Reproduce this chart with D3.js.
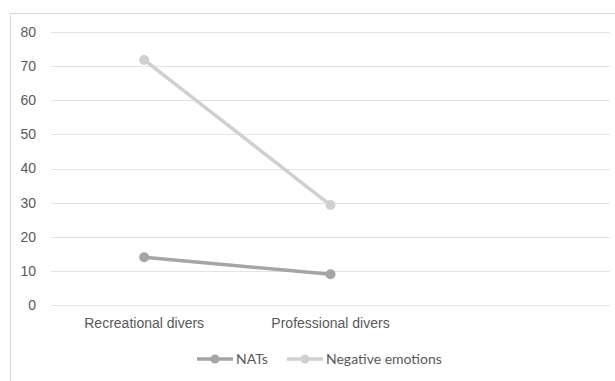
<!DOCTYPE html>
<html><head><meta charset="utf-8">
<script src="https://cdn.jsdelivr.net/npm/d3@7"></script>
<style>body{margin:0;background:#fff;}svg{display:block;font-family:Lato,"Open Sans",sans-serif;}</style>
</head><body><svg id="c" width="615" height="381"></svg>
<script>
const categories = ["Recreational divers", "Professional divers", ""];
const natsValues = [14.0, 9.0];
const negativeValues = [71.8, 29.3];
const yTicks = [0, 10, 20, 30, 40, 50, 60, 70, 80];
const seriesNames = ["NATs", "Negative emotions"];
const seriesColors = ["#a5a5a5", "#d0d0d0"];

const svg = d3.select("#c");
svg.append("rect").attr("x", 10.5).attr("y", 13.5).attr("width", 640).attr("height", 400)
  .attr("fill", "#fff").attr("stroke", "#d9d9d9");

const x = d3.scaleBand().domain(categories).range([51, 610]);
const y = d3.scaleLinear().domain([0, 80]).range([305, 32]);

const g = svg.append("g");
g.selectAll("line.grid").data(yTicks).join("line").attr("class", "grid")
  .attr("x1", 51).attr("x2", 610).attr("y1", d => Math.round(y(d)) + 0.5).attr("y2", d => Math.round(y(d)) + 0.5)
  .attr("stroke", "#e3e3e3").attr("stroke-width", 1.2);

const yAxis = svg.append("g").attr("transform", "translate(36,0)")
  .call(d3.axisLeft(y).tickValues(yTicks).tickSize(0).tickPadding(0));
yAxis.select(".domain").remove();
yAxis.selectAll("text").attr("fill", "#595959").style("font-size", "14px");

const xAxis = svg.append("g").attr("transform", "translate(0,305)")
  .call(d3.axisBottom(x).tickSize(0).tickPadding(13));
xAxis.select(".domain").remove();
xAxis.selectAll("text").attr("fill", "#595959").style("font-size", "14px");

const cx = i => x(categories[i]) + x.bandwidth() / 2;
const series = [natsValues, negativeValues];
const line = d3.line().x((d, i) => cx(i)).y(d => y(d));
[1, 0].forEach(s => {
  svg.append("path").datum(series[s]).attr("d", line).attr("fill", "none")
    .attr("stroke", seriesColors[s]).attr("stroke-width", 3.5).attr("stroke-linecap", "round");
  svg.selectAll(null).data(series[s]).join("circle")
    .attr("cx", (d, i) => cx(i)).attr("cy", d => y(d)).attr("r", 5).attr("fill", seriesColors[s]);
});

const legend = svg.append("g");
const legX = [197, 287];
seriesNames.forEach((n, i) => {
  const lg = legend.append("g").attr("transform", `translate(${legX[i]},359)`);
  lg.append("line").attr("x1", 0).attr("x2", 36).attr("stroke", seriesColors[i]).attr("stroke-width", 3.5);
  lg.append("circle").attr("cx", 18).attr("r", 4.5).attr("fill", seriesColors[i]);
  lg.append("text").attr("x", 39).attr("dy", "0.35em").attr("fill", "#595959").style("font-size", "14px").text(n);
});
</script></body></html>
